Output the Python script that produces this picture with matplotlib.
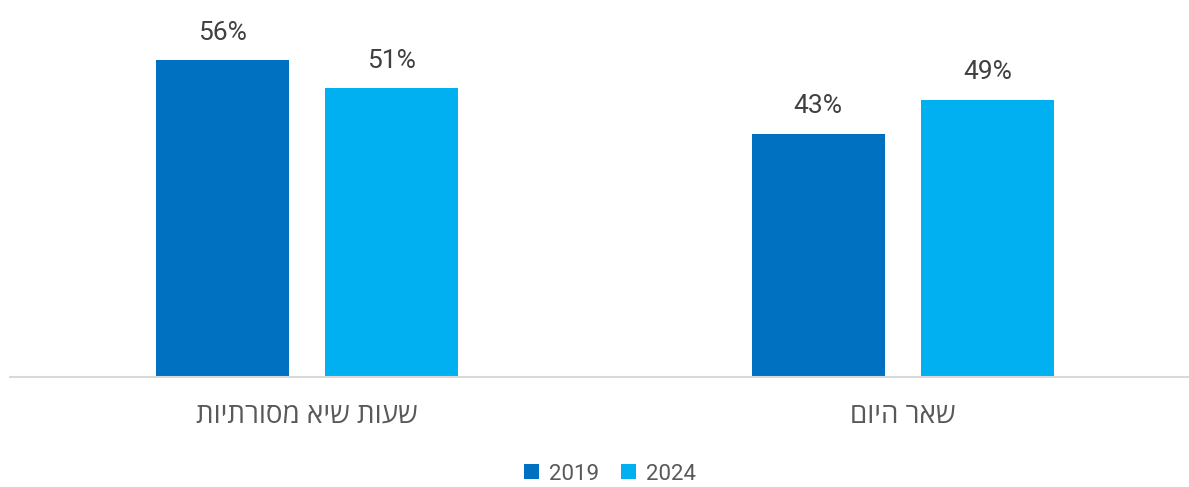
import matplotlib.pyplot as plt
import numpy as np

# Share of trips by time of day, 2019 vs 2024
categories = ["שעות שיא מסורתיות", "שאר היום"]
years = ["2019", "2024"]
values_2019 = [56, 43]
values_2024 = [51, 49]

colors = ["#0070C0", "#00B0F0"]
text_color = "#595959"

plt.rcParams['font.family'] = ['Roboto', 'DejaVu Sans']

fig = plt.figure(figsize=(11.89, 4.87), dpi=100)
ax = fig.add_axes([10 / 1189, 110 / 487, 1179 / 1189, 377 / 487])

x = np.arange(len(categories))
width = 0.2235
offset = 0.142

bars1 = ax.bar(x - offset, values_2019, width, color=colors[0], label=years[0])
bars2 = ax.bar(x + offset, values_2024, width, color=colors[1], label=years[1])

for bars, vals in [(bars1, values_2019), (bars2, values_2024)]:
    for b, v in zip(bars, vals):
        ax.annotate(f"{v}%", (b.get_x() + b.get_width() / 2, v),
                    xytext=(0, 11), textcoords="offset points",
                    ha="center", va="bottom", fontsize=19, color="#404040")

ax.set_xlim(-0.499, 1.4807)
ax.set_ylim(0, 66.6)

# matplotlib has no bidi support, so hebrew labels are reversed by hand
ax.set_xticks(x)
ax.set_xticklabels([c[::-1] for c in categories], fontsize=20, color=text_color,
                   family=['Open Sans', 'DejaVu Sans'])
ax.tick_params(axis='x', length=0, pad=18)
ax.set_yticks([])

for s in ['top', 'right', 'left']:
    ax.spines[s].set_visible(False)
ax.spines['bottom'].set_color("#D9D9D9")
ax.spines['bottom'].set_linewidth(1.5)

leg = fig.legend(loc='center', bbox_to_anchor=(610 / 1189, 1 - 474 / 487),
                 ncol=2, frameon=False, fontsize=16, handlelength=0.65,
                 handleheight=0.65, handletextpad=0.45, columnspacing=1.0)
for t in leg.get_texts():
    t.set_color(text_color)

fig.savefig("out.png", dpi=100)
